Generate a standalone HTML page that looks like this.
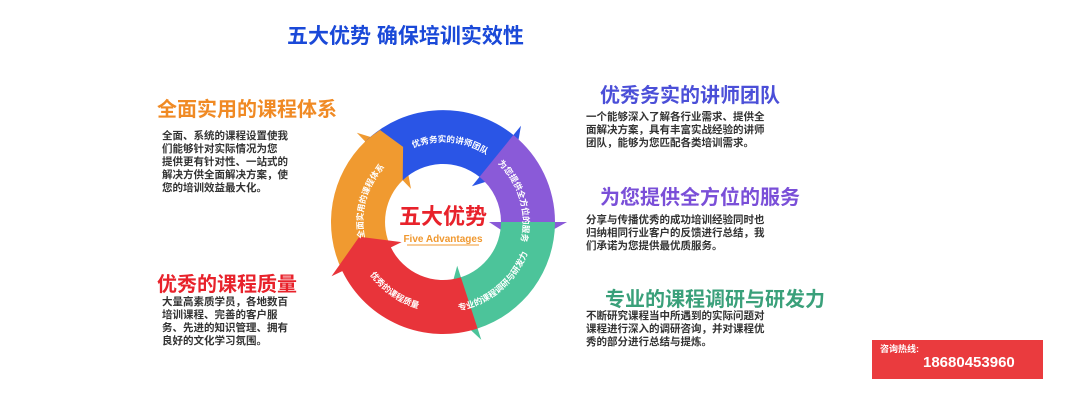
<!DOCTYPE html>
<html><head><meta charset="utf-8"><style>
body{margin:0;width:1070px;height:401px;background:#fff;position:relative;overflow:hidden;font-family:"Liberation Sans","Noto Sans CJK SC",sans-serif}
.a{position:absolute;white-space:nowrap}
h{position:absolute;font-weight:bold;font-size:20px;white-space:nowrap}
p{position:absolute;margin:0;font-size:10.5px;line-height:13px;color:#333;font-weight:bold}
</style></head><body>
<div class="a" style="left:287px;top:20px;font-size:21px;font-weight:bold;color:#1a49d8">五大优势 确保培训实效性</div>
<h style="left:157px;top:93px;color:#f08a24">全面实用的课程体系</h>
<p style="left:162px;top:130px;width:150px">全面、系统的课程设置使我<br>们能够针对实际情况为您<br>提供更有针对性、一站式的<br>解决方供全面解决方案，使<br>您的培训效益最大化。</p>
<h style="left:157px;top:268px;color:#e8222b">优秀的课程质量</h>
<p style="left:162px;top:296px">大量高素质学员，各地数百<br>培训课程、完善的客户服<br>务、先进的知识管理、拥有<br>良好的文化学习氛围。</p>
<h style="left:600px;top:79px;color:#4b4fd8">优秀务实的讲师团队</h>
<p style="left:586px;top:111px">一个能够深入了解各行业需求、提供全<br>面解决方案，具有丰富实战经验的讲师<br>团队，能够为您匹配各类培训需求。</p>
<h style="left:600px;top:181px;color:#7a4fd8">为您提供全方位的服务</h>
<p style="left:586px;top:214px">分享与传播优秀的成功培训经验同时也<br>归纳相同行业客户的反馈进行总结，我<br>们承诺为您提供最优质服务。</p>
<h style="left:605px;top:283px;color:#3aa07a">专业的课程调研与研发力</h>
<p style="left:586px;top:310px">不断研究课程当中所遇到的实际问题对<br>课程进行深入的调研咨询，并对课程优<br>秀的部分进行总结与提炼。</p>
<svg class="a" style="left:0;top:0" width="1070" height="401">
<defs>
<path id="cw" d="M363,222 A80,80 0 1 1 523,222 A80,80 0 1 1 363,222 A80,80 0 1 1 523,222 A80,80 0 1 1 363,222" fill="none"/>
<path id="ccw" d="M353,222 A90,90 0 1 0 533,222 A90,90 0 1 0 353,222" fill="none"/>
</defs>
<path d="M342.3,271.1 A112,112 0 0 1 365.2,141.5 L356.8,132.8 L403.1,146.9 L411,188.9 L402.7,180.3 A58,58 0 0 0 390.9,247.4 Z" fill="#f09a30"/>
<path d="M365.2,141.5 A112,112 0 0 1 513.4,135 L521,125.7 L512.6,173.2 L471.9,186.3 L479.5,176.9 A58,58 0 0 0 402.7,180.3 Z" fill="#2a55e6"/>
<path d="M513.4,135 A112,112 0 0 1 555,222 L567,222 L524.7,245.5 L489,222 L501,222 A58,58 0 0 0 479.5,176.9 Z" fill="#8a5ad8"/>
<path d="M555,222 A112,112 0 0 1 477.6,328.5 L481.3,339.9 L446,306.9 L457.2,265.7 L460.9,277.2 A58,58 0 0 0 501,222 Z" fill="#4cc49a"/>
<path d="M477.6,328.5 A112,112 0 0 1 342.3,271.1 L331.5,276.3 L359.3,236.8 L401.6,242.1 L390.9,247.4 A58,58 0 0 0 460.9,277.2 Z" fill="#e8343a"/>
<path d="M365.2,141.5 A112,112 0 0 1 380,130 L403.1,146.9 L402.7,180.3 A58,58 0 0 0 395,188 Z" fill="#f09a30"/>
<g font-size="8.5" font-weight="bold" fill="#fff" font-family="Liberation Sans,Noto Sans CJK SC,sans-serif" text-anchor="middle">
<text><textPath href="#cw" startOffset="133">优秀务实的讲师团队</textPath></text>
<text><textPath href="#cw" startOffset="228">为您提供全方位的服务</textPath></text>
<text><textPath href="#cw" startOffset="524">全面实用的课程体系</textPath></text>
<text><textPath href="#ccw" startOffset="204">专业的课程调研与研发力</textPath></text>
<text><textPath href="#ccw" startOffset="86">优秀的课程质量</textPath></text>
</g>
<text x="443" y="224" text-anchor="middle" font-size="22" font-weight="bold" fill="#e8222b" font-family="Liberation Sans,Noto Sans CJK SC,sans-serif">五大优势</text>
<text x="443" y="242" text-anchor="middle" font-size="10" font-weight="bold" fill="#f0982f" font-family="Liberation Sans,sans-serif">Five Advantages</text>
<line x1="407" y1="245" x2="479" y2="245" stroke="#f0982f"/>
</svg>
<div class="a" style="left:872px;top:340px;width:171px;height:39px;background:#ea3b3e"></div>
<div class="a" style="left:880px;top:342px;font-size:9px;font-weight:bold;color:#fff">咨询热线:</div>
<div class="a" style="left:923px;top:354px;font-size:15px;font-weight:bold;color:#fff">18680453960</div>
</body></html>
